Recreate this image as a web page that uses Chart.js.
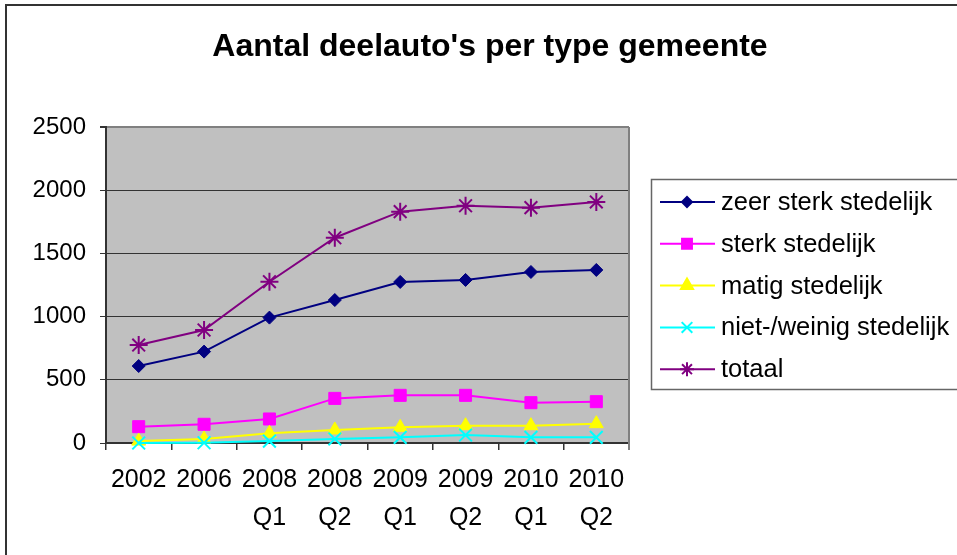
<!DOCTYPE html>
<html>
<head>
<meta charset="utf-8">
<script src="https://cdn.jsdelivr.net/npm/chart.js@4/dist/chart.umd.min.js"></script>
<style>
  html, body { margin: 0; padding: 0; background: #fff; }
  #chart { display: block; }
</style>
</head>
<body>
<canvas id="chart" width="957" height="555"></canvas>
<script>
const chartTitle = "Aantal deelauto's per type gemeente";
const categories = [["2002"], ["2006"], ["2008", "Q1"], ["2008", "Q2"], ["2009", "Q1"], ["2009", "Q2"], ["2010", "Q1"], ["2010", "Q2"]];
const seriesNames = ["zeer sterk stedelijk", "sterk stedelijk", "matig stedelijk", "niet-/weinig stedelijk", "totaal"];
const zeerSterk = [609, 723, 992, 1131, 1274, 1290, 1353, 1369];
const sterk = [129, 148, 190, 353, 377, 377, 319, 327];
const matig = [15, 32, 77, 103, 124, 137, 137, 153];
const nietWeinig = [0, 2, 15, 32, 45, 63, 45, 45];
const totaal = [775, 894, 1276, 1624, 1830, 1877, 1862, 1907];
const yTicks = [0, 500, 1000, 1500, 2000, 2500];

const FONT = "'Liberation Sans', Arial, sans-serif";

const styles = [
    { color: "#000080", point: "rectRot", radius: 6.5, legendRadius: 5, bw: 1 },
    { color: "#FF00FF", point: "rect", radius: 8.5, legendRadius: 7, bw: 1 },
    { color: "#FFFF00", point: "triangle", radius: 8, legendRadius: 7, bw: 1 },
    { color: "#00FFFF", point: "crossRot", radius: 9, legendRadius: 7.5, bw: 2 },
    { color: "#800080", point: "star", radius: 9, legendRadius: 7, bw: 2 }
];
const seriesData = [zeerSterk, sterk, matig, nietWeinig, totaal];

const datasets = seriesNames.map((name, i) => ({
    label: name,
    data: seriesData[i],
    borderColor: styles[i].color,
    backgroundColor: styles[i].color,
    borderWidth: 2,
    pointStyle: styles[i].point,
    pointRadius: styles[i].radius,
    pointBorderWidth: styles[i].bw,
    pointBackgroundColor: styles[i].color,
    pointBorderColor: styles[i].color,
    tension: 0,
    fill: false,
    clip: false,
    order: 5 - i
}));

function drawMarker(ctx, style, x, y, r) {
    if (Chart.helpers && Chart.helpers.drawPoint) {
        Chart.helpers.drawPoint(ctx, {
            pointStyle: style.point, radius: r, rotation: 0, borderWidth: style.bw
        }, x, y);
    }
}

const chartDecor = {
    id: "chartDecor",
    beforeDraw(chart) {
        const ctx = chart.ctx;
        const a = chart.chartArea;
        ctx.save();
        ctx.fillStyle = "#fff";
        ctx.fillRect(0, 0, chart.width, chart.height);
        ctx.fillStyle = "#C0C0C0";
        ctx.fillRect(a.left, a.top, a.right - a.left, a.bottom - a.top);
        ctx.restore();
    },
    afterDraw(chart) {
        const ctx = chart.ctx;
        const a = chart.chartArea;
        ctx.save();
        // rechterrand van het plotvlak
        ctx.strokeStyle = "#808080";
        ctx.lineWidth = 2;
        ctx.beginPath();
        ctx.moveTo(a.right, a.top);
        ctx.lineTo(a.right, a.bottom + 7);
        ctx.stroke();

        // buitenrand (links en boven)
        ctx.strokeStyle = "#333";
        ctx.lineWidth = 2;
        ctx.beginPath();
        ctx.moveTo(6, chart.height);
        ctx.lineTo(6, 5);
        ctx.lineTo(chart.width, 5);
        ctx.stroke();

        // titel
        ctx.fillStyle = "#000";
        ctx.font = "bold 32px " + FONT;
        ctx.textAlign = "center";
        ctx.textBaseline = "middle";
        ctx.fillText(chartTitle, 490, 47);

        // legenda
        ctx.strokeStyle = "#666";
        ctx.lineWidth = 1.5;
        ctx.strokeRect(651.5, 179.5, 330, 210);
        ctx.font = "25.5px " + FONT;
        ctx.textAlign = "left";
        seriesNames.forEach((name, i) => {
            const y = 202 + i * 41.8;
            const s = styles[i];
            ctx.strokeStyle = s.color;
            ctx.lineWidth = 2;
            ctx.beginPath();
            ctx.moveTo(660, y);
            ctx.lineTo(715, y);
            ctx.stroke();
            ctx.fillStyle = s.color;
            ctx.strokeStyle = s.color;
            drawMarker(ctx, s, 687, y, s.legendRadius);
            ctx.fillStyle = "#000";
            ctx.fillText(name, 721, y + 1);
        });
        ctx.restore();
    }
};

new Chart("chart", {
    type: "line",
    data: { labels: categories, datasets: datasets },
    options: {
        responsive: false,
        animation: false,
        devicePixelRatio: 1,
        layout: { padding: { top: 127, right: 328, left: 0, bottom: 0 } },
        plugins: {
            legend: { display: false },
            title: { display: false },
            tooltip: { enabled: false }
        },
        scales: {
            x: {
                offset: true,
                grid: {
                    offset: true,
                    drawOnChartArea: false,
                    tickLength: 7,
                    color: "#333",
                    lineWidth: 1.5
                },
                border: { color: "#333", width: 2 },
                ticks: {
                    color: "#000",
                    font: { family: FONT, size: 25, lineHeight: 1.52 },
                    padding: 11,
                    maxRotation: 0,
                    autoSkip: false
                },
                afterFit(scale) { scale.height = 112; }
            },
            y: {
                min: yTicks[0],
                max: yTicks[yTicks.length - 1],
                afterBuildTicks(scale) { scale.ticks = yTicks.map(v => ({ value: v })); },
                grid: {
                    color: ctx => (ctx.tick && ctx.tick.value === 2500 ? "#808080" : "#333"),
                    lineWidth: ctx => (ctx.tick && ctx.tick.value === 2500 ? 2 : 1),
                    tickColor: "#333",
                    tickLength: 6
                },
                border: { color: "#333", width: 2 },
                ticks: {
                    color: "#000",
                    font: { family: FONT, size: 24 },
                    padding: 14,
                    callback: v => String(v)
                },
                afterFit(scale) { scale.width = 106; }
            }
        }
    },
    plugins: [chartDecor]
});
</script>
</body>
</html>
